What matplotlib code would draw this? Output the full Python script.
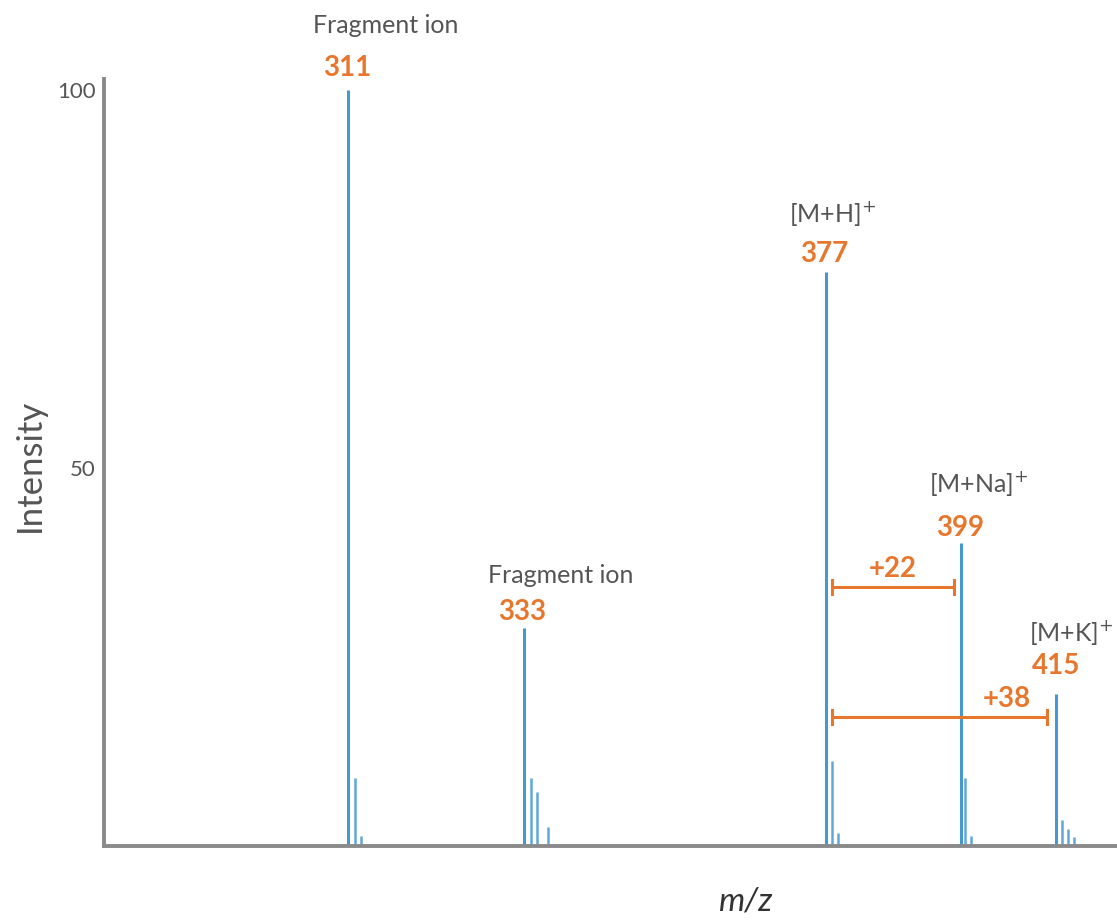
import matplotlib.pyplot as plt

plt.rcParams['font.family'] = ['Lato', 'DejaVu Sans']

# schematic peak positions (axis units 0-100, not linear in m/z) and intensities
main_pos = [24.1, 41.5, 71.3, 84.6, 94.0]
main_int = [100, 28.8, 75.9, 40.1, 20.1]
main_mz = ["311", "333", "377", "399", "415"]
ion_names = ["Fragment ion", "Fragment ion", "[M+H]$^{+}$", "[M+Na]$^{+}$", "[M+K]$^{+}$"]

# isotope / minor peaks
minor_pos = [24.8, 25.4, 42.2, 42.7, 43.8, 71.9, 72.5, 85.0, 85.6, 94.6, 95.2, 95.8]
minor_int = [9.0, 1.3, 9.0, 7.1, 2.5, 11.2, 1.7, 9.0, 1.3, 3.4, 2.2, 1.2]

# adduct mass shifts drawn as brackets from [M+H]+
shift_labels = ["+22", "+38"]
shift_ends = [83.9, 93.1]
shift_y = [34.3, 17.1]

blue = "#4598d0"
orange = "#e8772e"
grey = "#555555"

fig = plt.figure(figsize=(11.17, 9.21), dpi=100)
ax = fig.add_axes([0.0931, 0.0814, 0.9069, 0.9186])
ax.set_xlim(0, 100)
ax.set_ylim(0, 111.9)

ax.vlines(main_pos, 0, main_int, color=blue, lw=2.2)
ax.vlines(minor_pos, 0, minor_int, color=blue, lw=1.8, alpha=0.85)

# label offsets (in axis units) for the ion name and m/z value
name_dx = [3.75, 3.55, 0.6, 1.8, 1.5]
name_dy = [8.5, 7.0, 7.7, 7.9, 8.2]
mz_dx = [-0.1, -0.2, -0.2, -0.1, 0.0]
mz_dy = [2.9, 2.1, 2.4, 1.9, 3.7]
for x, y, mz, name, dx, dy, mdx, mdy in zip(main_pos, main_int, main_mz, ion_names,
                                            name_dx, name_dy, mz_dx, mz_dy):
    ax.text(x + dx, y + dy, name, color=grey, fontsize=18,
            ha="center", va="center")
    ax.text(x + mdx, y + mdy, mz, color=orange, fontsize=20, fontweight="bold",
            ha="center", va="center")

x0 = 71.9
for lab, xe, ys in zip(shift_labels, shift_ends, shift_y):
    ax.plot([x0, xe], [ys, ys], color=orange, lw=2.2)
    ax.plot([x0, x0], [ys - 0.9, ys + 0.9], color=orange, lw=2.2)
    ax.plot([xe, xe], [ys - 0.9, ys + 0.9], color=orange, lw=2.2)
xm = [(x0 + shift_ends[0]) / 2, shift_ends[1] - 4.0]
for lab, x, ys in zip(shift_labels, xm, shift_y):
    ax.text(x, ys + 2.3, lab, color=orange, fontsize=20,
            fontweight="bold", ha="center", va="center")

for s in ["top", "right"]:
    ax.spines[s].set_visible(False)
ax.spines["left"].set_bounds(0, 101.5)
for s in ["left", "bottom"]:
    ax.spines[s].set_color("#8a8a8a")
    ax.spines[s].set_linewidth(2.8)

ax.set_xticks([])
ax.set_yticks([50, 100])
ax.tick_params(axis="y", length=0, labelsize=16, labelcolor=grey, pad=6)
ax.set_ylabel("Intensity", fontsize=25, color=grey)
ax.yaxis.set_label_coords(-0.057, 0.45)
ax.set_xlabel("m/z", fontsize=24, color="#333333", style="italic")
ax.xaxis.set_label_coords(0.633, -0.048)

fig.savefig("out.png", dpi=100)
